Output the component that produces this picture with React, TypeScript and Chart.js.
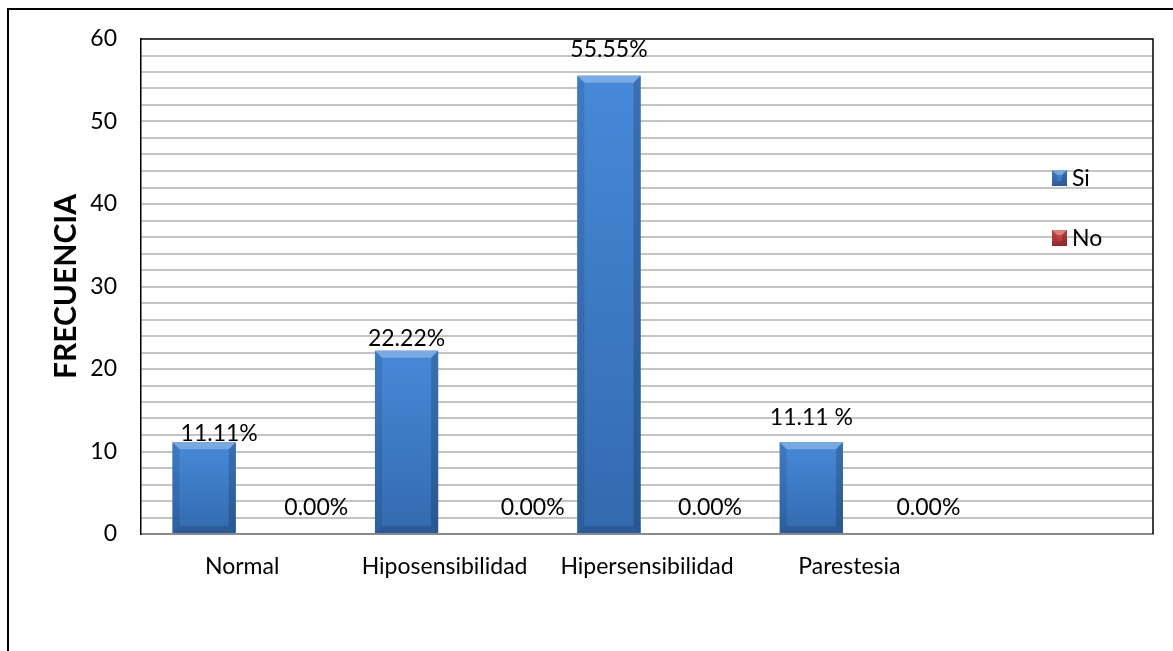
import React, { useEffect, useRef } from "react";
import { Chart, registerables } from "chart.js";

Chart.register(...registerables);

// Data
const categories = ["Normal", "Hiposensibilidad", "Hipersensibilidad", "Parestesia", ""];
const siValues = [11.11, 22.22, 55.55, 11.11, null];
const noValues = [0, 0, 0, 0, null];
const siLabels = ["11.11%", "22.22%", "55.55%", "11.11 %", ""];
const noLabels = ["0.00%", "0.00%", "0.00%", "0.00%", ""];
const yTickLabels = [0, 10, 20, 30, 40, 50, 60];

// Hand-placed nudges of the value labels: [dx, dy] of the label centre
// from the bar's top-centre.
const siLabelShift = [[15, -9], [0, -12], [0, -26], [0, -25], [0, 0]];
const noLabelShift = [[36, -26], [50, -26], [25, -26], [41, -26], [0, 0]];

const FONT = "Lato, 'Open Sans', sans-serif";
const TEXT_SIZE = 23;

type Palette = { top: string; bottom: string };
const BLUE: Palette = { top: "#4789d8", bottom: "#336aaf" };
const RED: Palette = { top: "#d2504e", bottom: "#a8302f" };

function poly(ctx: CanvasRenderingContext2D, pts: number[][], fill: string) {
  ctx.beginPath();
  ctx.moveTo(pts[0][0], pts[0][1]);
  for (let i = 1; i < pts.length; i++) ctx.lineTo(pts[i][0], pts[i][1]);
  ctx.closePath();
  ctx.fillStyle = fill;
  ctx.fill();
}

// Bevelled box: gradient body plus light top facet and darker side/bottom facets
function bevelBox(
  ctx: CanvasRenderingContext2D,
  x0: number, y0: number, x1: number, y1: number,
  p: Palette, bevel: number
) {
  const g = ctx.createLinearGradient(0, y0, 0, y1);
  g.addColorStop(0, p.top);
  g.addColorStop(1, p.bottom);
  ctx.fillStyle = g;
  ctx.fillRect(x0, y0, x1 - x0, y1 - y0);
  const b = Math.min(bevel, (x1 - x0) / 2, (y1 - y0) / 2);
  poly(ctx, [[x0, y0], [x1, y0], [x1 - b, y0 + b], [x0 + b, y0 + b]], "rgba(255,255,255,0.28)");
  poly(ctx, [[x0, y0], [x0 + b, y0 + b], [x0 + b, y1 - b], [x0, y1]], "rgba(0,0,0,0.10)");
  poly(ctx, [[x1, y0], [x1, y1], [x1 - b, y1 - b], [x1 - b, y0 + b]], "rgba(0,0,0,0.18)");
  poly(ctx, [[x0, y1], [x0 + b, y1 - b], [x1 - b, y1 - b], [x1, y1]], "rgba(0,0,0,0.14)");
}

const decorPlugin = {
  id: "decor",
  afterDatasetsDraw(chart: any) {
    const ctx: CanvasRenderingContext2D = chart.ctx;
    ctx.save();
    chart.data.datasets.forEach((ds: any, di: number) => {
      const meta = chart.getDatasetMeta(di);
      const pal = di === 0 ? BLUE : RED;
      meta.data.forEach((el: any, i: number) => {
        const v = ds.data[i];
        if (v == null || v <= 0) return;
        const { x, y, base, width } = el.getProps(["x", "y", "base", "width"], true);
        bevelBox(ctx, x - width / 2, y, x + width / 2, base, pal, 7);
      });
    });
    ctx.restore();
  },
  afterDraw(chart: any) {
    const ctx: CanvasRenderingContext2D = chart.ctx;
    const area = chart.chartArea;
    ctx.save();

    // plot frame: top and right edges
    ctx.strokeStyle = "#000";
    ctx.lineWidth = 1.5;
    ctx.beginPath();
    ctx.moveTo(area.left, area.top);
    ctx.lineTo(area.right, area.top);
    ctx.lineTo(area.right, area.bottom);
    ctx.stroke();

    // value labels
    ctx.fillStyle = "#000";
    ctx.font = `${TEXT_SIZE}px ${FONT}`;
    ctx.textAlign = "center";
    ctx.textBaseline = "middle";
    const siMeta = chart.getDatasetMeta(0);
    const noMeta = chart.getDatasetMeta(1);
    siMeta.data.forEach((el: any, i: number) => {
      if (!siLabels[i]) return;
      const { x, y } = el.getProps(["x", "y"], true);
      ctx.fillText(siLabels[i], x + siLabelShift[i][0], y + siLabelShift[i][1]);
    });
    noMeta.data.forEach((el: any, i: number) => {
      if (!noLabels[i]) return;
      const { x, y } = el.getProps(["x", "y"], true);
      ctx.fillText(noLabels[i], x + noLabelShift[i][0], y + noLabelShift[i][1]);
    });

    // legend inside the plot, right side
    const lx = area.right - 101;
    const ly = area.top + 139;
    ctx.textAlign = "left";
    chart.data.datasets.forEach((ds: any, di: number) => {
      const cy = ly + di * 60;
      const pal = di === 0 ? BLUE : RED;
      bevelBox(ctx, lx, cy - 8, lx + 15, cy + 8, pal, 5);
      ctx.fillStyle = "#000";
      ctx.fillText(ds.label, lx + 20, cy + 1);
    });
    ctx.restore();
  },
};

export default function App() {
  const canvasRef = useRef<HTMLCanvasElement | null>(null);

  useEffect(() => {
    const canvas = canvasRef.current;
    if (!canvas) return;
    const chart = new Chart(canvas, {
      type: "bar",
      data: {
        labels: categories,
        datasets: [
          {
            label: "Si",
            data: siValues,
            backgroundColor: "#3d7cc9",
            categoryPercentage: 0.752,
            barPercentage: 0.83,
          },
          {
            label: "No",
            data: noValues,
            backgroundColor: "#c0504d",
            categoryPercentage: 0.752,
            barPercentage: 0.83,
          },
        ],
      },
      options: {
        responsive: false,
        animation: false,
        layout: { padding: { left: 0, top: 29, right: 20, bottom: 0 } },
        plugins: {
          legend: { display: false },
          tooltip: { enabled: false },
        },
        scales: {
          x: {
            grid: { display: false, drawTicks: false },
            border: { display: true, color: "#8a8a8a", width: 2, dash: [2, 1] },
            ticks: {
              color: "#000",
              font: { family: FONT, size: TEXT_SIZE },
              padding: 19,
              maxRotation: 0,
              autoSkip: false,
            },
            afterFit: (s: any) => {
              s.height = 117;
            },
          },
          y: {
            min: 0,
            max: 60,
            ticks: {
              stepSize: 2,
              autoSkip: false,
              color: "#000",
              font: { family: FONT, size: TEXT_SIZE },
              padding: 0,
              callback: (v: any) => (yTickLabels.includes(Number(v)) ? String(v) : ""),
            },
            grid: {
              drawTicks: true,
              tickLength: 24,
              tickColor: "rgba(0,0,0,0)",
              lineWidth: 2,
              color: (c: any) =>
                c.tick && (c.tick.value === 0 || c.tick.value === 60) ? "rgba(0,0,0,0)" : "#c4c4c4",
            },
            border: { color: "#000", width: 1.5 },
            title: {
              display: true,
              text: "FRECUENCIA",
              color: "#000",
              font: { family: FONT, size: 30, weight: "bold" },
              padding: { top: 39, bottom: 0 },
            },
            afterFit: (s: any) => {
              s.width = 132;
            },
          },
        },
      },
      plugins: [decorPlugin],
    });
    return () => chart.destroy();
  }, []);

  return (
    <div
      style={{
        position: "fixed",
        left: 7,
        top: 8,
        width: 1166,
        height: 643,
        borderLeft: "2px solid #000",
        borderTop: "2px solid #000",
        boxSizing: "border-box",
        background: "#fff",
      }}
    >
      <canvas
        ref={canvasRef}
        width={1164}
        height={641}
        style={{ position: "absolute", left: 0, top: 0, width: 1164, height: 641 }}
      />
    </div>
  );
}
